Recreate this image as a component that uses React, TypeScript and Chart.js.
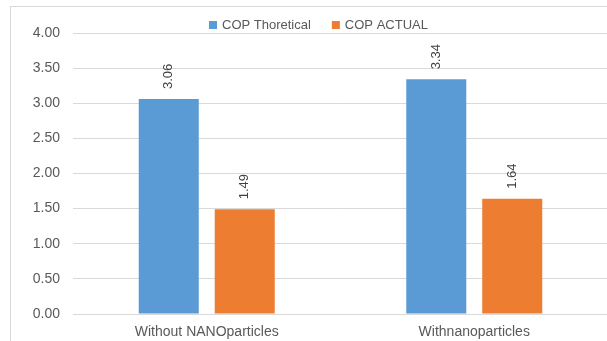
import React, { useEffect, useRef } from "react";
import { Chart, registerables } from "chart.js";

Chart.register(...registerables);

const categories = ["Without NANOparticles", "Withnanoparticles"];
const seriesNames = ["COP Thoretical", "COP ACTUAL"];
const copTheoretical = [3.06, 3.34];
const copActual = [1.49, 1.64];
const seriesColors = ["#5b9bd5", "#ed7d31"];

const FONT = "'Liberation Sans', Arial, sans-serif";
const TEXT = "#595959";

// Vertical value labels above each bar
const barValueLabels = {
  id: "barValueLabels",
  afterDatasetsDraw(chart: any) {
    const ctx = chart.ctx;
    ctx.save();
    ctx.font = `13px ${FONT}`;
    ctx.fillStyle = "#404040";
    ctx.textAlign = "left";
    ctx.textBaseline = "middle";
    chart.data.datasets.forEach((ds: any, di: number) => {
      const meta = chart.getDatasetMeta(di);
      meta.data.forEach((bar: any, i: number) => {
        ctx.save();
        ctx.translate(bar.x, bar.y - 10);
        ctx.rotate(-Math.PI / 2);
        ctx.fillText(Number(ds.data[i]).toFixed(2), 0, 0);
        ctx.restore();
      });
    });
    ctx.restore();
  },
};

// Legend row with small square swatches
const topLegend = {
  id: "topLegend",
  afterDraw(chart: any) {
    const ctx = chart.ctx;
    ctx.save();
    ctx.font = `13px ${FONT}`;
    ctx.textBaseline = "middle";
    ctx.textAlign = "left";
    const box = 8;
    const gapBoxText = 5;
    const gapItems = 21;
    const widths = chart.data.datasets.map(
      (ds: any) => box + gapBoxText + ctx.measureText(ds.label).width
    );
    const total = widths.reduce((a: number, b: number) => a + b, 0) + gapItems * (widths.length - 1);
    let x = Math.round(318 - total / 2);
    const y = 25;
    chart.data.datasets.forEach((ds: any, i: number) => {
      ctx.fillStyle = ds.backgroundColor;
      ctx.fillRect(x, y - box / 2, box, box);
      ctx.fillStyle = TEXT;
      ctx.fillText(ds.label, x + box + gapBoxText, y);
      x += widths[i] + gapItems;
    });
    ctx.restore();
  },
};

export default function App() {
  const canvasRef = useRef<HTMLCanvasElement>(null);

  useEffect(() => {
    if (!canvasRef.current) return;
    const chart = new Chart(canvasRef.current, {
      type: "bar",
      data: {
        labels: categories,
        datasets: [
          {
            label: seriesNames[0],
            data: copTheoretical,
            backgroundColor: seriesColors[0],
            barPercentage: 0.79,
            categoryPercentage: 0.568,
          },
          {
            label: seriesNames[1],
            data: copActual,
            backgroundColor: seriesColors[1],
            barPercentage: 0.79,
            categoryPercentage: 0.568,
          },
        ],
      },
      options: {
        responsive: false,
        animation: false,
        devicePixelRatio: 1,
        layout: { padding: { top: 33, right: 7, left: 0, bottom: 0 } },
        plugins: {
          legend: { display: false },
          tooltip: { enabled: false },
        },
        scales: {
          x: {
            grid: { display: false },
            border: { display: false },
            ticks: { color: TEXT, font: { family: FONT, size: 14 }, padding: 2 },
            afterFit: (s: any) => {
              s.height = 27;
            },
          },
          y: {
            min: 0,
            max: 4,
            grid: { color: "#d9d9d9", drawTicks: false, lineWidth: 1 },
            border: { display: false },
            ticks: {
              stepSize: 0.5,
              color: TEXT,
              padding: 13,
              font: { family: FONT, size: 14 },
              callback: (v: any) => Number(v).toFixed(2),
            },
            afterFit: (s: any) => {
              s.width = 73;
            },
          },
        },
      },
      plugins: [barValueLabels, topLegend],
    });
    return () => chart.destroy();
  }, []);

  return (
    <div
      style={{
        position: "fixed",
        left: 0,
        top: 0,
        width: 607,
        height: 341,
        overflow: "hidden",
        background: "#fff",
      }}
    >
      <div
        style={{
          position: "absolute",
          left: 10,
          top: 6,
          width: 640,
          height: 400,
          border: "1px solid #d9d9d9",
          boxSizing: "border-box",
        }}
      />
      <canvas
        ref={canvasRef}
        width={615}
        height={341}
        style={{ position: "absolute", left: 0, top: 0 }}
      />
    </div>
  );
}
